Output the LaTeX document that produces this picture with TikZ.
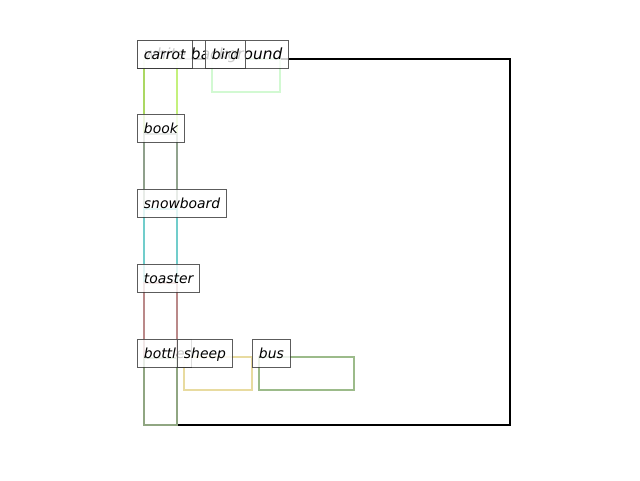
\documentclass[tikz,border=0pt]{standalone}
\usepackage{fontspec}
\setmainfont{DejaVu Sans}
\usetikzlibrary{positioning}
\definecolor{carrotc}{RGB}{190,240,110}
\definecolor{bookc}{RGB}{140,155,145}
\definecolor{snowc}{RGB}{110,210,210}
\definecolor{toastc}{RGB}{195,130,130}
\definecolor{bottlec}{RGB}{140,170,130}
\definecolor{sheepc}{RGB}{230,215,150}
\definecolor{busc}{RGB}{145,180,125}
\definecolor{birdc}{RGB}{205,248,205}
\begin{document}
\begin{tikzpicture}[x=1pt, y=-1pt,
		objbox/.style={line width=2.5pt, draw opacity=0.9},
		tag/.style={anchor=west, draw=black!80, line width=0.9pt, fill=white, fill opacity=0.8, text opacity=1, draw opacity=0.8, minimum height=28pt, inner xsep=6.5pt, inner ysep=0pt, text height=11.75pt, text depth=0.25pt, font=\fontsize{13.9}{16}\selectfont\itshape}]
		\useasboundingbox (0, 0) rectangle (640, 480);
		% whole image
		\draw[line width=2.2pt] (144, 59) rectangle (510, 425);
		% objects
		\draw[objbox, carrotc] (144, 59) rectangle (177, 425);
		\draw[objbox, bookc] (144, 134) rectangle (177, 425);
		\draw[objbox, snowc] (144, 209) rectangle (177, 425);
		\draw[objbox, toastc] (144, 283) rectangle (177, 425);
		\draw[objbox, bottlec] (144, 358) rectangle (177, 425);
		\draw[objbox, sheepc] (184, 357) rectangle (252, 390);
		\draw[objbox, busc] (259, 357) rectangle (354, 390);
		\draw[objbox, birdc] (212, 59) rectangle (280, 92);
		% labels
		\node[tag, font=\fontsize{15.4}{17}\selectfont\itshape] (bg) at (137, 54) {white background};
		\node[tag] (carrot) at (137, 54) {carrot};
		\node[tag] (book) at (137, 128) {book};
		\node[tag] (snowboard) at (137, 203) {snowboard};
		\node[tag] (toaster) at (137, 278) {toaster};
		\node[tag] (bottle) at (137, 353) {bottle};
		\node[tag] (sheep) at (177, 353) {sheep};
		\node[tag] (bus) at (252, 353) {bus};
		\node[tag] (bird) at (205, 54) {bird};
	\end{tikzpicture}
\end{document}
